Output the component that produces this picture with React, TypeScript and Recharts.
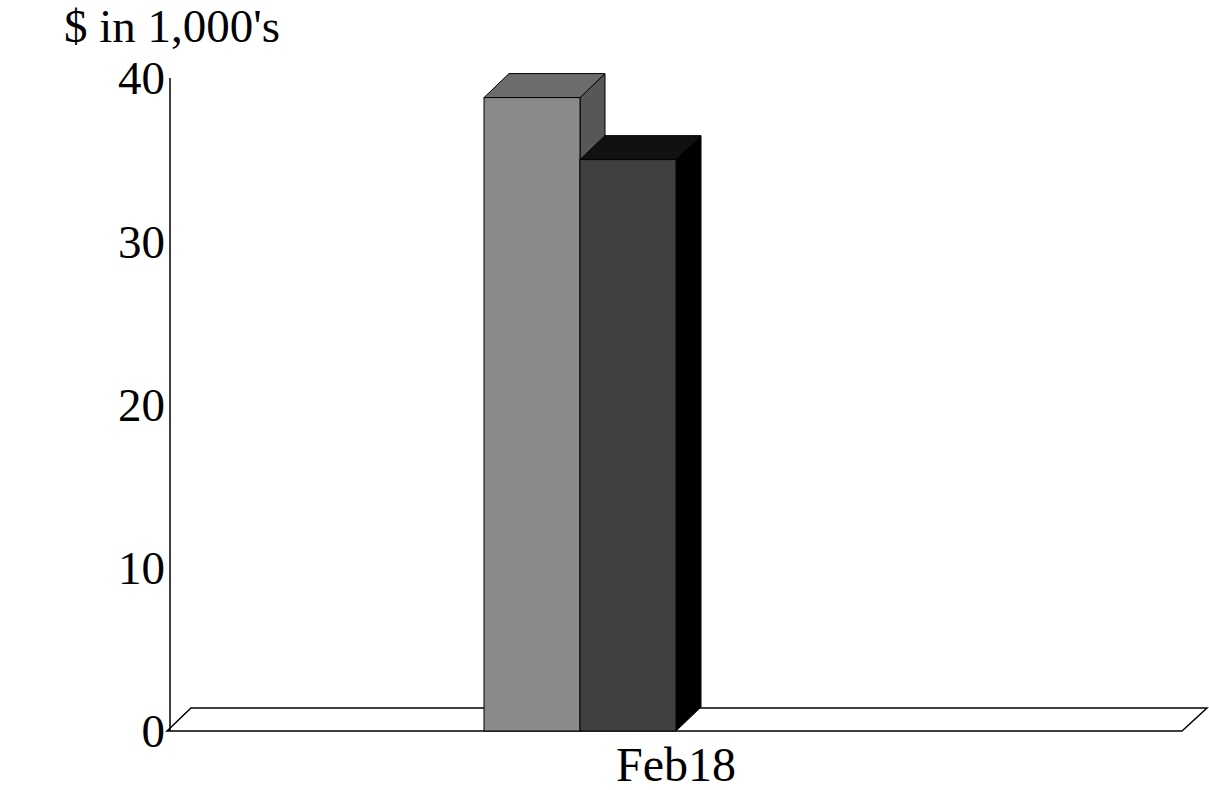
import React from 'react';
import { BarChart, Bar, XAxis, YAxis, ReferenceArea } from 'recharts';

const categories = ['Feb18'];
const seriesA = [38.8];
const seriesB = [35.0];
const seriesC = [0];
const seriesD = [0];
const yTicks = [0, 10, 20, 30, 40];
const titleText = "$ in 1,000's";

const data = categories.map((c, i) => ({ name: c, a: seriesA[i], b: seriesB[i], c: seriesC[i], d: seriesD[i] }));

const FONT = '"Liberation Serif", "Times New Roman", serif';
const DX = 25;
const DY = 24;

const make3D = (front: string, top: string, side: string) => (props: any) => {
  const { x, y, width, height } = props;
  if (!height || height <= 0) return <g />;
  const yb = y + height;
  return (
    <g>
      <polygon points={`${x + width},${y} ${x + width + DX},${y - DY} ${x + width + DX},${yb - DY} ${x + width},${yb}`} fill={side} stroke="#000" strokeWidth={1} />
      <polygon points={`${x},${y} ${x + DX},${y - DY} ${x + width + DX},${y - DY} ${x + width},${y}`} fill={top} stroke="#000" strokeWidth={1} />
      <rect x={x} y={y} width={width} height={height} fill={front} stroke="#000" strokeWidth={1} />
    </g>
  );
};

const Floor = (props: any) => {
  const { x, y, width, height } = props;
  const z = y + height;
  return (
    <polygon
      points={`${x - 3},${z} ${x + 21},${z - 23} ${x + width + 25},${z - 23} ${x + width},${z}`}
      fill="#fff"
      stroke="#000"
      strokeWidth={1.5}
    />
  );
};

const YTick = (props: any) => {
  const { x, y, payload } = props;
  return (
    <text x={x + 3} y={y} dy="0.35em" textAnchor="end" fontFamily={FONT} fontSize={47} fill="#000">
      {payload.value}
    </text>
  );
};

const XTick = (props: any) => {
  const { x, y, payload } = props;
  return (
    <text x={x} y={y + 42} textAnchor="middle" fontFamily={FONT} fontSize={48} fill="#000">
      {payload.value}
    </text>
  );
};

export default function App() {
  return (
    <div style={{ position: 'absolute', left: 0, top: 0, width: 1209, height: 790, background: '#fff' }}>
      <svg width={1209} height={790} style={{ position: 'absolute', left: 0, top: 0, pointerEvents: 'none' }}>
        <text x={64} y={42} fontFamily={FONT} fontSize={47} fill="#000">{titleText}</text>
      </svg>
      <BarChart width={1209} height={790} data={data} margin={{ top: 78, right: 27, bottom: 0, left: 0 }} barGap={0} barSize={96}>
        <XAxis dataKey="name" height={59} axisLine={false} tickLine={false} tick={<XTick />} />
        <YAxis domain={[0, 40]} ticks={yTicks} width={170} axisLine={{ stroke: '#000', strokeWidth: 1.5 }} tickLine={false} tick={<YTick />} interval={0} />
        <ReferenceArea y1={0} y2={1} shape={<Floor />} ifOverflow="visible" />
        <Bar dataKey="a" isAnimationActive={false} shape={make3D('#8a8a8a', '#6c6c6c', '#575757')} />
        <Bar dataKey="b" isAnimationActive={false} shape={make3D('#404040', '#111111', '#000000')} />
        <Bar dataKey="c" isAnimationActive={false} shape={make3D('#bbbbbb', '#999999', '#777777')} />
        <Bar dataKey="d" isAnimationActive={false} shape={make3D('#dddddd', '#bbbbbb', '#999999')} />
      </BarChart>
    </div>
  );
}
